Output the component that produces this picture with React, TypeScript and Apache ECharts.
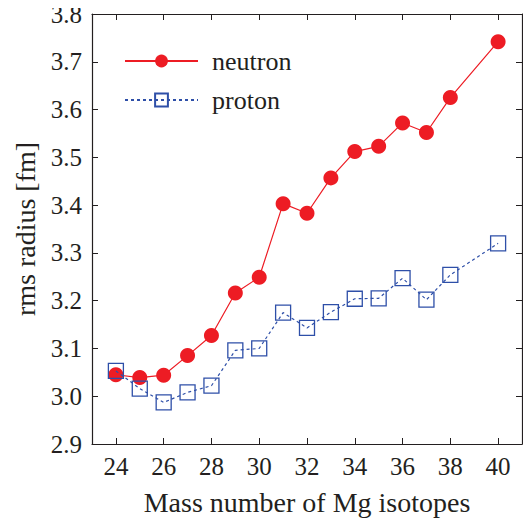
import React, { useEffect, useRef } from "react";
import * as echarts from "echarts";

const massNumbers = [24, 25, 26, 27, 28, 29, 30, 31, 32, 33, 34, 35, 36, 37, 38, 40];
const neutron = [3.045, 3.039, 3.044, 3.085, 3.127, 3.216, 3.249, 3.403, 3.383, 3.457, 3.512, 3.523, 3.572, 3.552, 3.625, 3.742];
const proton = [3.053, 3.016, 2.987, 3.008, 3.022, 3.096, 3.100, 3.175, 3.143, 3.176, 3.204, 3.205, 3.247, 3.202, 3.254, 3.320];
const xTicks = [24, 26, 28, 30, 32, 34, 36, 38, 40];

const RED = "#ed1c24";
const BLUE = "#2e4fa8";
const INK = "#231f20";
const FONT = "'Liberation Serif', 'Times New Roman', 'DejaVu Serif', serif";

export default function App() {
  const ref = useRef<HTMLDivElement>(null);
  useEffect(() => {
    const chart = echarts.init(ref.current!, null, { renderer: "svg" });
    const axisLine = { show: true, lineStyle: { color: INK, width: 1.2 } };
    const tick = { show: true, inside: true, length: 6, lineStyle: { color: INK, width: 1 } };
    const legendBase = {
      orient: "vertical",
      left: 124,
      itemWidth: 73,
      itemHeight: 16,
      textStyle: { fontFamily: FONT, fontSize: 26, lineHeight: 16, color: INK, padding: [0, 0, 0, 9] },
    };
    chart.setOption({
      animation: false,
      textStyle: { fontFamily: FONT },
      grid: { left: 92, right: 9, top: 14, bottom: 76, outerBoundsMode: "none", containLabel: false },
      legend: [
        { ...legendBase, top: 48, padding: 0, data: ["neutron"] },
        { ...legendBase, top: 87, padding: 0, data: ["proton"] },
      ],
      xAxis: [
        {
          type: "value", min: 23, max: 41,
          name: "Mass number of Mg isotopes", nameLocation: "middle", nameGap: 44,
          nameTextStyle: { fontFamily: FONT, fontSize: 28, color: INK },
          axisLine,
          axisTick: { ...tick, customValues: xTicks },
          axisLabel: { fontFamily: FONT, fontSize: 25, color: INK, margin: 10, customValues: xTicks },
          splitLine: { show: false },
        },
        {
          type: "value", min: 23, max: 41, position: "top",
          axisLine, axisTick: { ...tick, customValues: xTicks }, axisLabel: { show: false }, splitLine: { show: false },
        },
      ],
      yAxis: [
        {
          type: "value", min: 2.9, max: 3.8, interval: 0.1,
          name: "rms radius [fm]", nameLocation: "middle", nameGap: 52,
          nameTextStyle: { fontFamily: FONT, fontSize: 28, color: INK },
          axisLine, axisTick: tick,
          axisLabel: { fontFamily: FONT, fontSize: 25, color: INK, margin: 10, formatter: (v: number) => v.toFixed(1) },
          splitLine: { show: false },
        },
        {
          type: "value", min: 2.9, max: 3.8, interval: 0.1, position: "right",
          axisLine, axisTick: tick, axisLabel: { show: false }, splitLine: { show: false },
        },
      ],
      series: [
        {
          name: "neutron", type: "line",
          data: massNumbers.map((m, i) => [m, neutron[i]]),
          symbol: "circle", symbolSize: 15,
          itemStyle: { color: RED },
          lineStyle: { color: RED, width: 1.2 },
          z: 3,
        },
        {
          name: "proton", type: "line",
          data: massNumbers.map((m, i) => [m, proton[i]]),
          symbol: "rect", symbolSize: 15,
          itemStyle: { color: "rgba(255,255,255,0)", borderColor: BLUE, borderWidth: 1.3 },
          lineStyle: { color: BLUE, width: 1.2, type: [3, 3] },
          z: 4,
        },
      ],
    });
    return () => chart.dispose();
  }, []);
  return <div ref={ref} style={{ width: 531, height: 520, marginLeft: -8, marginTop: -8 }} />;
}
